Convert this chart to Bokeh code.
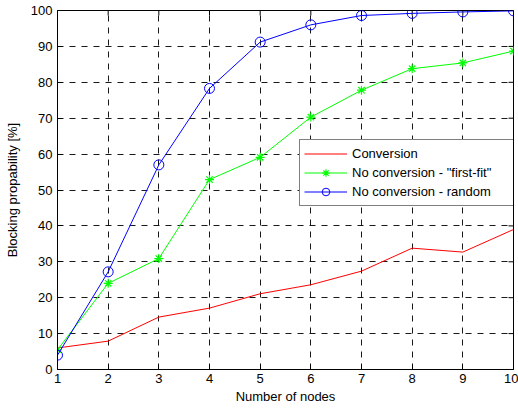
import math
from bokeh.plotting import figure
from bokeh.models import Range1d, FixedTicker, Legend, LegendItem
from bokeh.embed import file_html
from bokeh.resources import INLINE

nodes = [1, 2, 3, 4, 5, 6, 7, 8, 9, 10]
conversion = [6.0, 7.9, 14.6, 17.1, 21.1, 23.6, 27.4, 33.8, 32.7, 39.0]
first_fit = [5.5, 24.0, 30.9, 52.9, 59.1, 70.3, 77.8, 83.8, 85.4, 88.7]
random_sel = [4.0, 27.2, 57.0, 78.3, 91.2, 96.0, 98.6, 99.2, 99.6, 99.9]
x_ticks = list(range(1, 11))
y_ticks = list(range(0, 101, 10))

FONT = "Liberation Sans"
FS = "13px"

X0, X1 = 1, 10
Y0, Y1 = 0, 100

p = figure(width=518, height=410, output_backend="svg", toolbar_location=None,
           x_range=Range1d(X0, X1), y_range=Range1d(Y0, Y1),
           min_border_left=57, min_border_right=5, min_border_top=10, min_border_bottom=41,
           background_fill_color="white", border_fill_color="white")

p.outline_line_color = "black"
p.outline_line_width = 1
p.outline_line_alpha = 1

for ax in (p.xaxis[0], p.yaxis[0]):
    ax.axis_line_color = "black"
    ax.major_tick_line_color = "black"
    ax.major_tick_in = 5
    ax.major_tick_out = 0
    ax.minor_tick_line_color = None
    ax.major_label_text_font = FONT
    ax.major_label_text_font_size = FS
    ax.major_label_text_color = "black"
    ax.axis_label_text_font = FONT
    ax.axis_label_text_font_size = FS
    ax.axis_label_text_font_style = "normal"
    ax.axis_label_text_color = "black"

p.xaxis[0].ticker = FixedTicker(ticks=x_ticks)
p.yaxis[0].ticker = FixedTicker(ticks=y_ticks)
p.xaxis[0].axis_label = "Number of nodes"
p.yaxis[0].axis_label = "Blocking propability [%]"
p.xaxis[0].major_label_standoff = 4
p.xaxis[0].axis_label_standoff = 3
p.yaxis[0].major_label_standoff = 5
p.yaxis[0].axis_label_standoff = 8

p.xgrid.ticker = FixedTicker(ticks=x_ticks)
p.ygrid.ticker = FixedTicker(ticks=y_ticks)
for g in (p.xgrid[0], p.ygrid[0]):
    g.grid_line_color = "black"
    g.grid_line_alpha = 0.9
    g.grid_line_dash = "6 6"
    g.grid_line_width = 1

# mirrored inward ticks on the top and right edges (half of each dash clipped by the frame)
p.scatter(x_ticks, [Y1] * len(x_ticks), marker="dash", angle=math.pi / 2, size=10,
          line_color="black", line_width=1)
p.scatter([X1] * len(y_ticks), y_ticks, marker="dash", size=10,
          line_color="black", line_width=1)

r1 = p.line(nodes, conversion, line_color="#ff0000", line_width=1)
l2 = p.line(nodes, first_fit, line_color="#00ff00", line_width=1)
m2 = p.scatter(nodes, first_fit, marker="asterisk", size=9, line_color="#00ff00", line_width=1.2)
l3 = p.line(nodes, random_sel, line_color="#0000ff", line_width=1)
m3 = p.scatter(nodes, random_sel, marker="circle", size=10, line_color="#0000ff",
               fill_color=None, line_width=1)

legend = Legend(items=[
    LegendItem(label="Conversion", renderers=[r1]),
    LegendItem(label='No conversion - "first-fit"', renderers=[l2, m2]),
    LegendItem(label="No conversion - random", renderers=[l3, m3]),
], location=(242, 163))
legend.label_text_font = FONT
legend.label_text_font_size = FS
legend.label_text_color = "black"
legend.label_height = 19
legend.glyph_height = 19
legend.glyph_width = 43
legend.label_width = 163
legend.label_standoff = 5
legend.spacing = 0
legend.padding = 4
legend.margin = 0
legend.border_line_color = "black"
legend.border_line_width = 1
legend.background_fill_color = "white"
legend.background_fill_alpha = 1
p.add_layout(legend, "center")

open("out.html", "w").write(file_html(p, INLINE))
